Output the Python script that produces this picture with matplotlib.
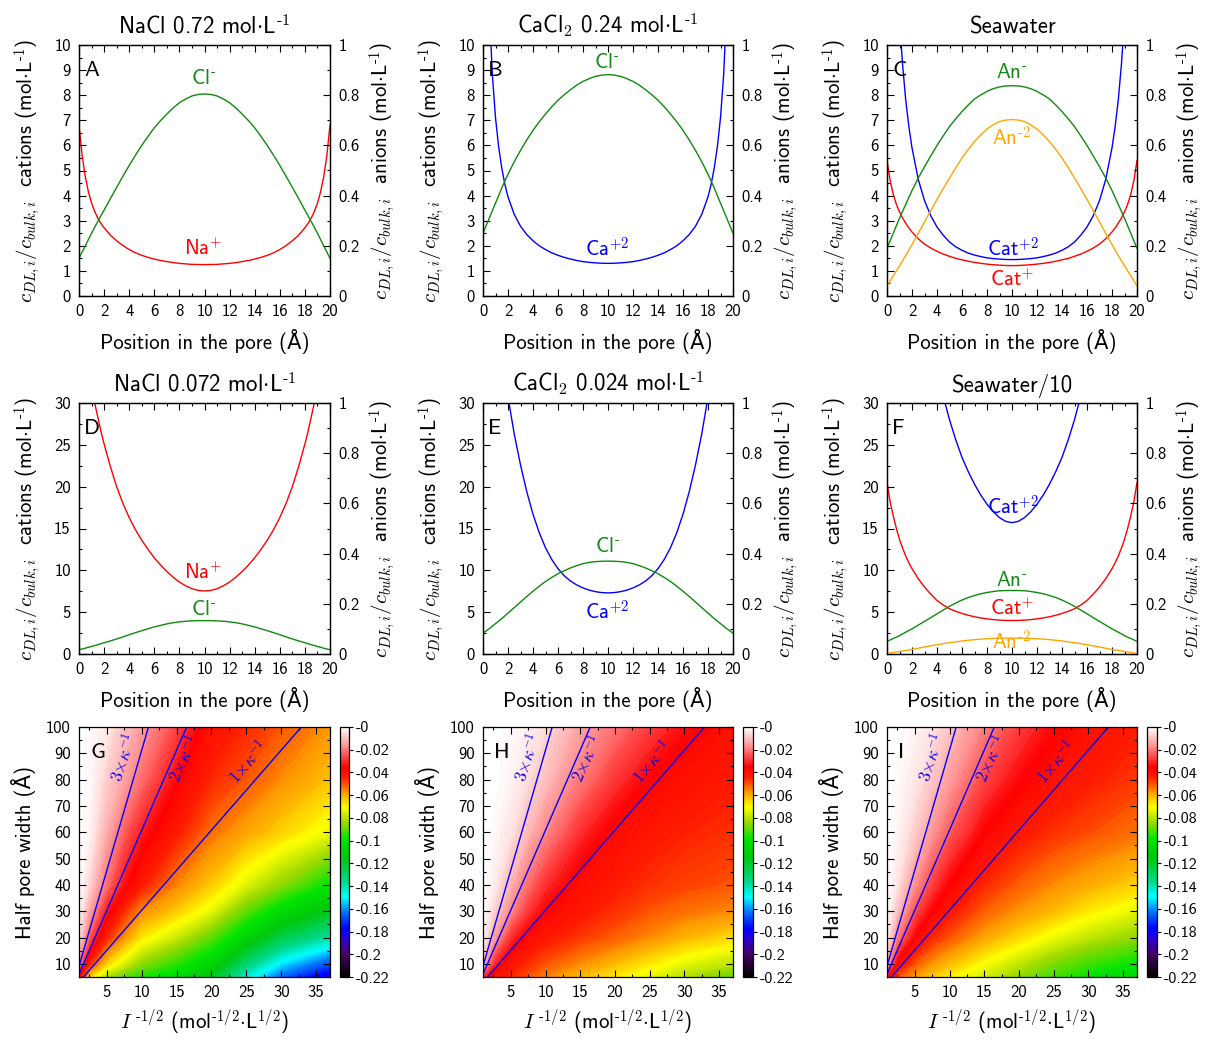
import numpy as np
import matplotlib
matplotlib.use("Agg")
import matplotlib.pyplot as plt
from matplotlib.colors import LinearSegmentedColormap, Normalize
from matplotlib.cm import ScalarMappable
from matplotlib.ticker import MultipleLocator, FuncFormatter, FixedLocator
from matplotlib.mathtext import MathTextParser

plt.rcParams['font.family'] = ['cmss10', 'DejaVu Sans']
plt.rcParams['mathtext.fontset'] = 'cm'
plt.rcParams['axes.unicode_minus'] = False
plt.rcParams['axes.formatter.use_mathtext'] = True

# short hyphen for superscript charges, if mathtext supports \text
try:
    MathTextParser('agg').parse(r'$L^{\text{-}\mathsf{1}}$', 100, matplotlib.font_manager.FontProperties())
    HY = r'\text{-}'
except Exception:
    HY = r'\mathsf{-}'


def hyph(s):
    return s.replace(r'\mathsf{-}', HY).replace(r'\mathsf{-', HY + r'\mathsf{')


# ---------------- profile data (position in the pore, Å) ----------------
pos = [0, 0.25, 0.5, 0.75, 1, 1.25, 1.5, 1.75, 2, 2.5, 3, 3.5, 4, 4.5, 5, 5.5, 6, 6.5, 7, 7.5, 8, 8.5, 9, 9.5, 10,
       10.5, 11, 11.5, 12, 12.5, 13, 13.5, 14, 14.5, 15, 15.5, 16, 16.5, 17, 17.5, 18, 18.25, 18.5, 18.75, 19,
       19.25, 19.5, 19.75, 20]

# A: NaCl 0.72
A_na = [6.8, 5.6, 4.75, 4.15, 3.7, 3.37, 3.1, 2.89, 2.72, 2.42, 2.2, 2.01, 1.85, 1.72, 1.62, 1.54, 1.47, 1.415,
        1.37, 1.33, 1.3, 1.28, 1.26, 1.255, 1.25,
        1.255, 1.26, 1.28, 1.3, 1.33, 1.37, 1.415, 1.47, 1.54, 1.62, 1.72, 1.85, 2.01, 2.2, 2.42, 2.72, 2.89, 3.1,
        3.37, 3.7, 4.15, 4.75, 5.6, 6.8]
A_cl = [0.15, 0.175, 0.2, 0.225, 0.25, 0.274, 0.297, 0.32, 0.342, 0.388, 0.433, 0.477, 0.52, 0.561, 0.6, 0.636,
        0.67, 0.699, 0.725, 0.749, 0.77, 0.785, 0.797, 0.803, 0.805,
        0.803, 0.797, 0.785, 0.77, 0.749, 0.725, 0.699, 0.67, 0.636, 0.6, 0.561, 0.52, 0.477, 0.433, 0.388, 0.342,
        0.32, 0.297, 0.274, 0.25, 0.225, 0.2, 0.175, 0.15]
# B: CaCl2 0.24
B_ca = [25, 16, 11.5, 8.8, 7.1, 5.95, 5.1, 4.45, 3.95, 3.25, 2.78, 2.45, 2.2, 2.0, 1.85, 1.72, 1.62, 1.54, 1.47,
        1.415, 1.37, 1.34, 1.32, 1.305, 1.3,
        1.305, 1.32, 1.34, 1.37, 1.415, 1.47, 1.54, 1.62, 1.72, 1.85, 2.0, 2.2, 2.45, 2.78, 3.25, 3.95, 4.45, 5.1,
        5.95, 7.1, 8.8, 11.5, 16, 25]
B_cl = [0.25, 0.28, 0.31, 0.34, 0.37, 0.4, 0.43, 0.458, 0.485, 0.535, 0.58, 0.622, 0.66, 0.694, 0.725, 0.754,
        0.78, 0.802, 0.822, 0.84, 0.855, 0.866, 0.875, 0.88, 0.882,
        0.88, 0.875, 0.866, 0.855, 0.84, 0.822, 0.802, 0.78, 0.754, 0.725, 0.694, 0.66, 0.622, 0.58, 0.535, 0.485,
        0.458, 0.43, 0.4, 0.37, 0.34, 0.31, 0.28, 0.25]
# C: Seawater
C_cat2 = [30, 22, 17, 13.5, 11, 9.2, 7.8, 6.75, 5.9, 4.65, 3.8, 3.2, 2.75, 2.42, 2.15, 1.96, 1.82, 1.71, 1.63,
          1.57, 1.52, 1.49, 1.47, 1.455, 1.45,
          1.455, 1.47, 1.49, 1.52, 1.57, 1.63, 1.71, 1.82, 1.96, 2.15, 2.42, 2.75, 3.2, 3.8, 4.65, 5.9, 6.75, 7.8,
          9.2, 11, 13.5, 17, 22, 30]
C_cat1 = [5.4, 4.6, 4.05, 3.65, 3.35, 3.1, 2.9, 2.71, 2.55, 2.28, 2.07, 1.91, 1.78, 1.67, 1.58, 1.5, 1.44, 1.385,
          1.34, 1.3, 1.27, 1.245, 1.23, 1.215, 1.21,
          1.215, 1.23, 1.245, 1.27, 1.3, 1.34, 1.385, 1.44, 1.5, 1.58, 1.67, 1.78, 1.91, 2.07, 2.28, 2.55, 2.71, 2.9,
          3.1, 3.35, 3.65, 4.05, 4.6, 5.4]
C_an1 = [0.19, 0.22, 0.25, 0.28, 0.31, 0.338, 0.365, 0.393, 0.42, 0.47, 0.515, 0.558, 0.6, 0.638, 0.675, 0.706,
         0.735, 0.761, 0.785, 0.801, 0.815, 0.826, 0.833, 0.837, 0.838,
         0.837, 0.833, 0.826, 0.815, 0.801, 0.785, 0.761, 0.735, 0.706, 0.675, 0.638, 0.6, 0.558, 0.515, 0.47, 0.42,
         0.393, 0.365, 0.338, 0.31, 0.28, 0.25, 0.22, 0.19]
C_an2 = [0.04, 0.06, 0.08, 0.1, 0.12, 0.141, 0.162, 0.183, 0.205, 0.25, 0.295, 0.34, 0.385, 0.428, 0.47, 0.511,
         0.55, 0.584, 0.615, 0.642, 0.665, 0.682, 0.695, 0.701, 0.703,
         0.701, 0.695, 0.682, 0.665, 0.642, 0.615, 0.584, 0.55, 0.511, 0.47, 0.428, 0.385, 0.34, 0.295, 0.25, 0.205,
         0.183, 0.162, 0.141, 0.12, 0.1, 0.08, 0.06, 0.04]
# D: NaCl 0.072
D_na = [45, 41, 37.5, 34.5, 32, 30, 28.3, 26.6, 25.1, 22.4, 20.0, 18.0, 16.3, 14.85, 13.6, 12.5, 11.5, 10.63, 9.85,
        9.18, 8.6, 8.15, 7.8, 7.6, 7.53,
        7.6, 7.8, 8.15, 8.6, 9.18, 9.85, 10.63, 11.5, 12.5, 13.6, 14.85, 16.3, 18.0, 20.0, 22.4, 25.1, 26.6, 28.3,
        30, 32, 34.5, 37.5, 41, 45]
D_cl = [0.017, 0.02, 0.023, 0.027, 0.03, 0.0335, 0.037, 0.041, 0.045, 0.052, 0.06, 0.068, 0.077, 0.085, 0.093,
        0.1005, 0.108, 0.114, 0.12, 0.1245, 0.128, 0.1305, 0.132, 0.1328, 0.133,
        0.1328, 0.132, 0.1305, 0.128, 0.1245, 0.12, 0.114, 0.108, 0.1005, 0.093, 0.085, 0.077, 0.068, 0.06, 0.052,
        0.045, 0.041, 0.037, 0.0335, 0.03, 0.027, 0.023, 0.02, 0.017]
# E: CaCl2 0.024
E_ca = [70, 62, 55, 49, 44, 39.8, 36.3, 33.3, 30.7, 26.3, 22.6, 19.4, 16.7, 14.5, 12.7, 11.3, 10.2, 9.35, 8.72,
        8.25, 7.9, 7.63, 7.45, 7.34, 7.3,
        7.34, 7.45, 7.63, 7.9, 8.25, 8.72, 9.35, 10.2, 11.3, 12.7, 14.5, 16.7, 19.4, 22.6, 26.3, 30.7, 33.3, 36.3,
        39.8, 44, 49, 55, 62, 70]
E_cl = [0.083, 0.092, 0.101, 0.111, 0.121, 0.131, 0.141, 0.152, 0.163, 0.185, 0.207, 0.229, 0.25, 0.27, 0.289,
        0.305, 0.32, 0.332, 0.343, 0.352, 0.36, 0.365, 0.368, 0.3695, 0.37,
        0.3695, 0.368, 0.365, 0.36, 0.352, 0.343, 0.332, 0.32, 0.305, 0.289, 0.27, 0.25, 0.229, 0.207, 0.185, 0.163,
        0.152, 0.141, 0.131, 0.121, 0.111, 0.101, 0.092, 0.083]
# F: Seawater/10
F_cat2 = [120, 108, 98, 89, 81, 74.3, 68, 62.8, 58, 49.5, 43, 38.2, 34, 30.8, 28, 25.6, 23.5, 21.8, 20.3, 19.0,
          17.9, 17.0, 16.3, 15.85, 15.7,
          15.85, 16.3, 17.0, 17.9, 19.0, 20.3, 21.8, 23.5, 25.6, 28, 30.8, 34, 38.2, 43, 49.5, 58, 62.8, 68, 74.3,
          81, 89, 98, 108, 120]
F_cat1 = [20.5, 18.2, 16.5, 15, 13.7, 12.65, 11.7, 10.9, 10.2, 9.0, 8.0, 7.15, 6.4, 5.85, 5.4, 5.1, 4.85, 4.63,
          4.45, 4.31, 4.2, 4.11, 4.05, 4.01, 4.0,
          4.01, 4.05, 4.11, 4.2, 4.31, 4.45, 4.63, 4.85, 5.1, 5.4, 5.85, 6.4, 7.15, 8.0, 9.0, 10.2, 10.9, 11.7,
          12.65, 13.7, 15, 16.5, 18.2, 20.5]
F_an1 = [0.05, 0.056, 0.062, 0.067, 0.073, 0.08, 0.087, 0.0935, 0.1, 0.115, 0.13, 0.145, 0.16, 0.175, 0.19, 0.203,
         0.215, 0.225, 0.233, 0.24, 0.245, 0.249, 0.252, 0.2527, 0.253,
         0.2527, 0.252, 0.249, 0.245, 0.24, 0.233, 0.225, 0.215, 0.203, 0.19, 0.175, 0.16, 0.145, 0.13, 0.115, 0.1,
         0.0935, 0.087, 0.08, 0.073, 0.067, 0.062, 0.056, 0.05]
F_an2 = [0.003, 0.004, 0.006, 0.008, 0.01, 0.012, 0.014, 0.016, 0.018, 0.023, 0.028, 0.0325, 0.037, 0.041, 0.045,
         0.0485, 0.052, 0.0547, 0.057, 0.0592, 0.061, 0.0622, 0.0627, 0.0632, 0.0633,
         0.0632, 0.0627, 0.0622, 0.061, 0.0592, 0.057, 0.0547, 0.052, 0.0485, 0.045, 0.041, 0.037, 0.0325, 0.028,
         0.023, 0.018, 0.016, 0.014, 0.012, 0.01, 0.008, 0.006, 0.004, 0.003]

titles = [r'NaCl 0.72 mol$\cdot$L$^{\mathsf{-1}}$', r'CaCl$_{\mathsf{2}}$ 0.24 mol$\cdot$L$^{\mathsf{-1}}$',
          'Seawater',
          r'NaCl 0.072 mol$\cdot$L$^{\mathsf{-1}}$', r'CaCl$_{\mathsf{2}}$ 0.024 mol$\cdot$L$^{\mathsf{-1}}$',
          'Seawater/10']
letters = ['A', 'B', 'C', 'D', 'E', 'F']

# ---------------- heat-map data ----------------
hx = [1, 2.5, 5, 7.5, 10, 15, 20, 25, 30, 37]
hy = [5, 10, 20, 30, 40, 60, 80, 100]
G_val = [
    [-0.04, -0.065, -0.082, -0.09, -0.097, -0.105, -0.118, -0.145, -0.165, -0.185],
    [-0.02, -0.045, -0.065, -0.076, -0.085, -0.095, -0.107, -0.132, -0.152, -0.168],
    [-0.005, -0.025, -0.045, -0.057, -0.068, -0.078, -0.09, -0.108, -0.125, -0.14],
    [-0.002, -0.014, -0.033, -0.046, -0.056, -0.064, -0.074, -0.09, -0.104, -0.117],
    [0.0, -0.007, -0.022, -0.034, -0.043, -0.055, -0.064, -0.075, -0.085, -0.1],
    [0.0, -0.002, -0.013, -0.024, -0.032, -0.043, -0.053, -0.059, -0.065, -0.073],
    [0.0, -0.001, -0.008, -0.014, -0.022, -0.035, -0.045, -0.05, -0.056, -0.063],
    [0.0, -0.001, -0.004, -0.01, -0.015, -0.027, -0.04, -0.045, -0.05, -0.057],
]
H_val = [
    [-0.03, -0.04, -0.045, -0.05, -0.055, -0.062, -0.068, -0.074, -0.081, -0.09],
    [-0.01, -0.03, -0.041, -0.046, -0.05, -0.056, -0.062, -0.068, -0.074, -0.08],
    [-0.002, -0.014, -0.03, -0.038, -0.042, -0.047, -0.051, -0.056, -0.061, -0.066],
    [-0.001, -0.007, -0.018, -0.029, -0.036, -0.042, -0.046, -0.05, -0.053, -0.056],
    [0.0, -0.003, -0.012, -0.022, -0.03, -0.039, -0.043, -0.046, -0.048, -0.05],
    [0.0, -0.001, -0.005, -0.011, -0.018, -0.03, -0.038, -0.042, -0.044, -0.046],
    [0.0, 0.0, -0.002, -0.006, -0.01, -0.02, -0.029, -0.036, -0.04, -0.043],
    [0.0, 0.0, -0.001, -0.003, -0.006, -0.014, -0.021, -0.028, -0.034, -0.04],
]
I_val = [
    [-0.035, -0.05, -0.058, -0.064, -0.069, -0.077, -0.085, -0.093, -0.1, -0.106],
    [-0.015, -0.038, -0.05, -0.057, -0.062, -0.071, -0.079, -0.087, -0.093, -0.1],
    [-0.003, -0.02, -0.036, -0.045, -0.05, -0.059, -0.066, -0.073, -0.079, -0.085],
    [-0.001, -0.01, -0.026, -0.036, -0.042, -0.051, -0.057, -0.062, -0.068, -0.074],
    [0.0, -0.005, -0.017, -0.028, -0.036, -0.045, -0.051, -0.056, -0.06, -0.065],
    [0.0, -0.002, -0.008, -0.016, -0.024, -0.036, -0.042, -0.046, -0.049, -0.053],
    [0.0, -0.001, -0.004, -0.009, -0.015, -0.027, -0.035, -0.04, -0.043, -0.047],
    [0.0, 0.0, -0.002, -0.005, -0.009, -0.019, -0.028, -0.035, -0.04, -0.043],
]
heat_letters = ['G', 'H', 'I']
debye_coeff = 3.04          # kappa^-1 (Å) per unit of I^-1/2
debye_mult = [3, 2, 1]
debye_lbl = [r'$3{\times}\kappa^{-1}$', r'$2{\times}\kappa^{-1}$', r'$1{\times}\kappa^{-1}$']
debye_lbl_xy = [(7.4, 88.5), (16.0, 88.0), (25.3, 86.7)]
debye_rot = [72, 65, 49]
cb_ticks = [0, -0.02, -0.04, -0.06, -0.08, -0.1, -0.12, -0.14, -0.16, -0.18, -0.2, -0.22]

RED, GREEN, BLUE, ORANGE = '#ff0000', '#108a10', '#0000ff', '#ffa500'

cmap = LinearSegmentedColormap.from_list('gp', [
    (0.0, (0, 0, 0)), (0.09, (0.28, 0, 0.38)), (0.16, (0.15, 0, 0.9)), (0.19, (0, 0, 1)),
    (0.26, (0, 0.45, 1)), (0.32, (0, 1, 1)), (0.38, (0, 0.85, 0.55)), (0.48, (0, 0.78, 0.05)),
    (0.55, (0, 0.9, 0)), (0.62, (0.6, 0.85, 0)), (0.68, (1, 1, 0)), (0.74, (1, 0.6, 0)),
    (0.80, (1, 0.12, 0)), (0.84, (1, 0, 0)), (0.91, (1, 0.47, 0.47)), (1.0, (1, 1, 1))])

W, H = 1214, 1042
fig = plt.figure(figsize=(W / 100, H / 100), dpi=100)


def ax_at(l, t, r, b):
    return fig.add_axes([l / W, 1 - b / H, (r - l) / W, (b - t) / H])


cols = [(79, 330), (483, 733), (887, 1137)]
rows = [(45, 296), (403, 654)]
fmt = FuncFormatter(lambda v, p: '%g' % v)
cbfmt = FuncFormatter(lambda v, p: '-%g' % abs(round(v, 3)))
TICK = 12
LAB = 15


def style_profile(ax, ax2, ymax, ymaj):
    ax.set_xlim(0, 20)
    ax.set_ylim(0, ymax)
    ax2.set_ylim(0, 1)
    ax.xaxis.set_major_locator(MultipleLocator(2))
    ax.xaxis.set_minor_locator(MultipleLocator(1))
    ax.yaxis.set_major_locator(MultipleLocator(ymaj))
    ax.yaxis.set_minor_locator(MultipleLocator(ymaj / 2))
    ax2.yaxis.set_major_locator(MultipleLocator(0.2))
    ax2.yaxis.set_minor_locator(MultipleLocator(0.1))
    ax.xaxis.set_major_formatter(fmt)
    ax.yaxis.set_major_formatter(fmt)
    ax2.yaxis.set_major_formatter(fmt)
    ax.tick_params(which='both', direction='in', top=True, right=False, labelsize=TICK, pad=6, width=0.8)
    ax.tick_params(which='major', length=5)
    ax.tick_params(which='minor', length=2.5)
    ax2.tick_params(which='both', direction='in', right=True, left=False, labelsize=TICK, pad=6, width=0.8)
    ax2.tick_params(which='major', length=5)
    ax2.tick_params(which='minor', length=2.5)
    for a in (ax, ax2):
        for s in a.spines.values():
            s.set_linewidth(0.9)
    ax.set_xlabel('Position in the pore (Å)', fontsize=LAB, labelpad=7)
    ax.set_ylabel(hyph(r'$c_{DL,i}/c_{bulk,i}$  cations (mol$\cdot$L$^{\mathsf{-1}}$)'), fontsize=LAB,
                  labelpad=7)
    ax2.set_ylabel(hyph(r'$c_{DL,i}/c_{bulk,i}$  anions (mol$\cdot$L$^{\mathsf{-1}}$)'), fontsize=LAB,
                   labelpad=6)


profiles = [
    ([(A_na, RED)], [(A_cl, GREEN)], 10, 1,
     [(9.9, 8.65, r'Cl$^{\mathsf{-}}$', GREEN), (9.9, 1.9, r'Na$^{\mathsf{+}}$', RED)]),
    ([(B_ca, BLUE)], [(B_cl, GREEN)], 10, 1,
     [(9.9, 9.3, r'Cl$^{\mathsf{-}}$', GREEN), (9.9, 1.9, r'Ca$^{\mathsf{+2}}$', BLUE)]),
    ([(C_cat2, BLUE), (C_cat1, RED)], [(C_an1, GREEN), (C_an2, ORANGE)], 10, 1,
     [(10.0, 8.9, r'An$^{\mathsf{-}}$', GREEN), (10.0, 6.3, r'An$^{\mathsf{-2}}$', ORANGE),
      (10.1, 1.9, r'Cat$^{\mathsf{+2}}$', BLUE), (10.0, 0.65, r'Cat$^{\mathsf{+}}$', RED)]),
    ([(D_na, RED)], [(D_cl, GREEN)], 30, 5,
     [(9.9, 9.7, r'Na$^{\mathsf{+}}$', RED), (9.9, 5.3, r'Cl$^{\mathsf{-}}$', GREEN)]),
    ([(E_ca, BLUE)], [(E_cl, GREEN)], 30, 5,
     [(9.95, 12.9, r'Cl$^{\mathsf{-}}$', GREEN), (9.95, 5.1, r'Ca$^{\mathsf{+2}}$', BLUE)]),
    ([(F_cat2, BLUE), (F_cat1, RED)], [(F_an1, GREEN), (F_an2, ORANGE)], 30, 5,
     [(10.05, 17.6, r'Cat$^{\mathsf{+2}}$', BLUE), (10.0, 8.8, r'An$^{\mathsf{-}}$', GREEN),
      (10.0, 5.4, r'Cat$^{\mathsf{+}}$', RED), (10.0, 1.5, r'An$^{\mathsf{-2}}$', ORANGE)]),
]

for k, (cats, ans, ymax, ymaj, labels) in enumerate(profiles):
    r, c = divmod(k, 3)
    l, rr = cols[c]
    t, b = rows[r]
    ax = ax_at(l, t, rr, b)
    ax2 = ax.twinx()
    for vals, col in cats:
        ax.plot(pos, vals, color=col, lw=1.0)
    for vals, col in ans:
        ax2.plot(pos, vals, color=col, lw=1.0)
    style_profile(ax, ax2, ymax, ymaj)
    ax.set_title(hyph(titles[k]), fontsize=16.5, pad=8)
    for (x, y, txt, col) in labels:
        ax.text(x, y, hyph(txt), color=col, fontsize=LAB, ha='center', va='center')
    ax.text(0.02, 0.9, letters[k], transform=ax.transAxes, fontsize=16, ha='left', va='center')

# ---------------- heat maps ----------------
cbx = [(340, 349), (743, 753), (1147, 1157)]
levels = np.linspace(-0.22, 0.0005, 222)
for k, vals in enumerate([G_val, H_val, I_val]):
    l, rr = cols[k]
    ax = ax_at(l, 727, rr, 977)
    norm = Normalize(-0.22, 0.0)
    cs = ax.contourf(hx, hy, np.array(vals), levels=levels, cmap=cmap, norm=norm, antialiased=False)
    cs.set_rasterized(True)
    for m, lbl, (tx, ty), rot in zip(debye_mult, debye_lbl, debye_lbl_xy, debye_rot):
        ax.axline((0, 0), slope=m * debye_coeff, color=BLUE, lw=1.0)
        ax.text(tx, ty, lbl, color=BLUE, fontsize=12.5, rotation=rot, ha='center', va='center',
                rotation_mode='anchor')
    ax.set_xlim(1, 37)
    ax.set_ylim(5, 100)
    ax.xaxis.set_major_locator(MultipleLocator(5))
    ax.xaxis.set_minor_locator(MultipleLocator(2.5))
    ax.yaxis.set_major_locator(MultipleLocator(10))
    ax.yaxis.set_minor_locator(MultipleLocator(5))
    ax.xaxis.set_major_formatter(fmt)
    ax.yaxis.set_major_formatter(fmt)
    ax.set_yticks([10, 20, 30, 40, 50, 60, 70, 80, 90, 100])
    ax.tick_params(which='both', direction='in', top=True, right=True, labelsize=TICK, pad=6, width=0.8)
    ax.tick_params(which='major', length=5)
    ax.tick_params(which='minor', length=2.5)
    for s in ax.spines.values():
        s.set_linewidth(0.9)
    ax.set_xlabel(hyph(r'$I^{\ \mathsf{-1/2}}$ (mol$^{\mathsf{-1/2}}$$\cdot$L$^{\mathsf{1/2}}$)'),
                  fontsize=LAB, labelpad=5)
    ax.set_ylabel('Half pore width (Å)', fontsize=LAB, labelpad=7)
    ax.text(0.045, 0.9, heat_letters[k], transform=ax.transAxes, fontsize=16, ha='left', va='center')
    cl, cr = cbx[k]
    cax = ax_at(cl, 727, cr, 977)
    cb = fig.colorbar(ScalarMappable(norm=Normalize(-0.22, 0.0), cmap=cmap), cax=cax)
    cb.ax.yaxis.set_major_locator(FixedLocator(cb_ticks))
    cb.ax.yaxis.set_major_formatter(cbfmt)
    cb.ax.tick_params(labelsize=11.5, length=3, width=0.8, pad=2)
    cb.outline.set_linewidth(0.9)

fig.savefig('out.png', dpi=100)
